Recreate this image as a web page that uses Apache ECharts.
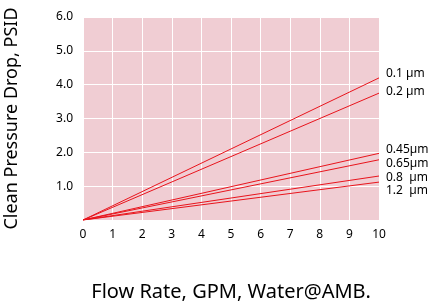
<!DOCTYPE html>
<html><head><meta charset="utf-8">
<script src="https://cdn.jsdelivr.net/npm/echarts@6/dist/echarts.min.js"></script>
<style>html,body{margin:0;padding:0;background:#fff}#c{width:430px;height:302px}</style>
</head><body><div id="c"></div>
<script>
const seriesNames = ['0.1 µm', '0.2 µm', '0.45µm', '0.65µm', '0.8  µm', '1.2  µm'];
const flowRates = [0, 10];
const dp01 = [0, 4.2];
const dp02 = [0, 3.75];
const dp045 = [0, 1.97];
const dp065 = [0, 1.78];
const dp08 = [0, 1.3];
const dp12 = [0, 1.12];
const yTicks = ['0', '1.0', '2.0', '3.0', '4.0', '5.0', '6.0'];
const allValues = [dp01, dp02, dp045, dp065, dp08, dp12];
const labelOffsets = [[5, -4], [5, -2], [5, -4], [5, 4], [5, 2], [5, 8]];

const chart = echarts.init(document.getElementById('c'));
const font = 'Noto Sans';
chart.setOption({
  animation: false,
  grid: { left: 83, right: 51, top: 17, bottom: 82, show: true, backgroundColor: '#f0cdd3', borderWidth: 0,
    containLabel: false, outerBoundsMode: 'none' },
  xAxis: {
    type: 'value', min: 0, max: 10, interval: 1,
    axisLine: { show: false }, axisTick: { show: false },
    splitLine: { show: true, lineStyle: { color: '#ffffff', width: 1 } },
    axisLabel: { color: '#000', fontFamily: font, fontSize: 12, margin: 9 },
    name: 'Flow Rate, GPM, Water@AMB.', nameLocation: 'middle', nameGap: 62,
    nameTextStyle: { color: '#000', fontFamily: font, fontSize: 20 }
  },
  yAxis: {
    type: 'value', min: 0, max: 6, interval: 1,
    axisLine: { show: false }, axisTick: { show: false },
    splitLine: { show: true, lineStyle: { color: '#ffffff', width: 1 } },
    axisLabel: { color: '#000', fontFamily: font, fontSize: 12, margin: 10,
      formatter: v => v === 0 ? '' : yTicks[v] },
    name: 'Clean Pressure Drop, PSID', nameLocation: 'middle', nameGap: 62,
    nameTextStyle: { color: '#000', fontFamily: font, fontSize: 18 }
  },
  series: allValues.map((vals, i) => ({
    type: 'line', name: seriesNames[i],
    data: flowRates.map((x, j) => [x, vals[j]]),
    showSymbol: false, symbol: 'none',
    lineStyle: { color: '#e8141c', width: 1 },
    endLabel: { show: true, formatter: seriesNames[i], color: '#000', fontFamily: font, fontSize: 12,
      offset: labelOffsets[i], distance: 2 }
  }))
});
</script></body></html>
